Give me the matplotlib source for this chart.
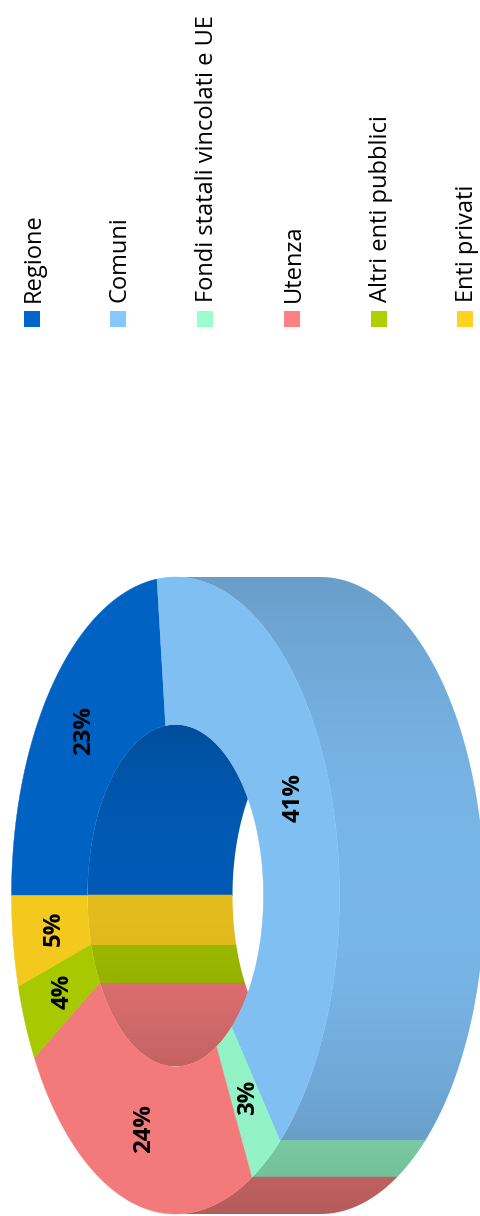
import numpy as np
import matplotlib
matplotlib.use('Agg')
import matplotlib.pyplot as plt
from matplotlib.patches import Polygon, Rectangle

# dati
categorie = ['Regione', 'Comuni', 'Fondi statali vincolati e UE', 'Utenza', 'Altri enti pubblici', 'Enti privati']
quote = [23.2, 40.8, 3.3, 24.2, 3.9, 4.6]
colori_legenda = ['#0066CC', '#85C8FF', '#99FFCC', '#FF8080', '#AFD000', '#FFD320']
colori_sopra = ['#0063C4', '#7FBFF1', '#93F3C6', '#F37A7A', '#A8C800', '#F3C91E']

plt.rcParams['font.family'] = ['Open Sans', 'DejaVu Sans']

# geometria della ciambella (in pixel), ruotata di 90 gradi
cx, cy = 175.5, 895.5
a_est, b_est = 164, 318.5
a_int, b_int = 88, 171
prof = 145

fig = plt.figure(figsize=(4.81, 12.16), dpi=100)
ax = fig.add_axes([0, 0, 1, 1])


def punti(t, a, b):
    r = np.radians(t)
    return cx - a * np.cos(r), cy - b * np.sin(r)


def parete(t_da, t_a, a, b, colore, esterna):
    # sfumatura verticale ritagliata sulla forma della parete
    if t_a <= t_da:
        return
    # piccola sovrapposizione per non lasciare filetti bianchi tra le fette
    t = np.linspace(t_da - 0.25, t_a + 0.25, 200)
    x, y = punti(t, a, b)
    if esterna:
        dx = x + prof
    else:
        dx = np.minimum(x + prof, 2 * cx - x)
    forma = Polygon(np.c_[np.r_[x, dx[::-1]], np.r_[y, y[::-1]]], transform=ax.transData)
    y_su, y_giu = y.min(), y.max()
    righe = np.linspace(y_su, y_giu, max(int(y_giu - y_su), 2))
    s2 = ((cy - righe) / b) ** 2
    if esterna:
        f = 0.91 - np.where(righe < cy, 0.12, 0.20) * s2
    else:
        f = 0.89 - 0.125 * s2
    img = f[:, None, None] * np.array(matplotlib.colors.to_rgb(colore))
    im = ax.imshow(img, extent=[x.min(), dx.max(), y_giu, y_su], aspect='auto',
                   interpolation='bilinear', zorder=1)
    im.set_clip_path(forma)


bordi = np.cumsum([0] + quote) * 3.6

# pareti: esterna da 90 a 270 gradi, interna il resto (visibile solo dentro il foro)
for i in range(len(quote)):
    t0, t1 = bordi[i], bordi[i + 1]
    parete(max(t0, 90), min(t1, 270), a_est, b_est, colori_legenda[i], True)
    if i == 0:
        parete(t0, 90, a_int, b_int, colori_legenda[i], False)
    parete(max(t0, 270), t1, a_int, b_int, colori_legenda[i], False)

# faccia superiore
for i in range(len(quote)):
    t = np.linspace(bordi[i], bordi[i + 1], 120)
    xe, ye = punti(t, a_est, b_est)
    xi, yi = punti(t[::-1], a_int, b_int)
    ax.fill(np.r_[xe, xi], np.r_[ye, yi], color=colori_sopra[i], lw=0.3, zorder=2)

# etichette percentuali
for i, q in enumerate(quote):
    tm = (bordi[i] + bordi[i + 1]) / 2
    x, y = punti(tm, (a_est + a_int) / 2, (b_est + b_int) / 2)
    ax.text(x + 2.5, y - 2, f'{q:.0f}%', rotation=90, ha='center', va='center', fontsize=17.3,
            fontweight='bold', color='black', zorder=3)

# legenda
x_leg = [32, 118, 205, 292, 379, 465]
for i, nome in enumerate(categorie):
    ax.add_patch(Rectangle((x_leg[i] - 8, 311), 16, 16, fc=colori_legenda[i], ec='none', zorder=3))
    ax.text(x_leg[i] + 2, 302, nome, rotation=90, ha='center', va='bottom', fontsize=17,
            color='black', zorder=3)

ax.set_xlim(0, 481)
ax.set_ylim(1216, 0)
ax.axis('off')

fig.savefig('out.png', dpi=100, facecolor='white')
